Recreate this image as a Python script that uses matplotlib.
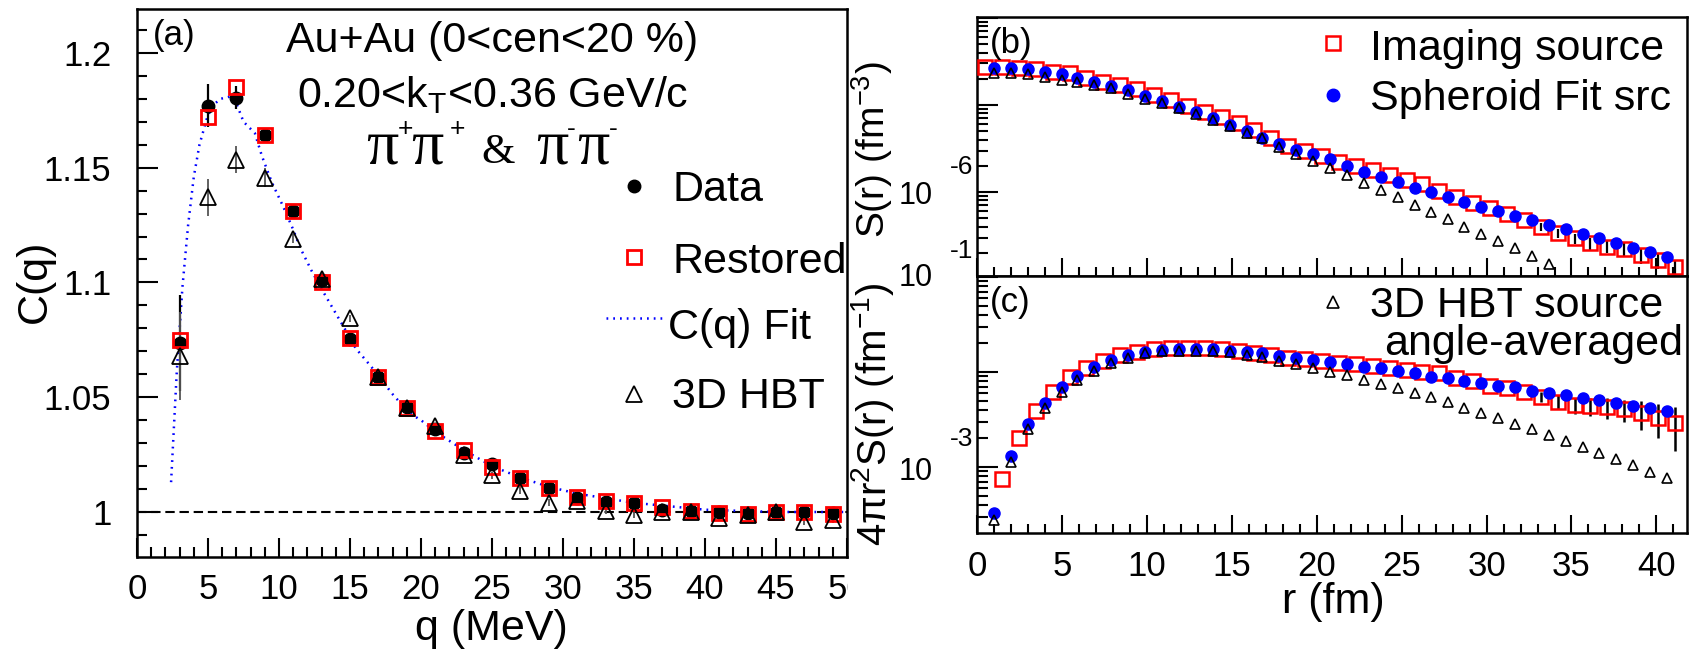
import numpy as np
import matplotlib
matplotlib.use('Agg')
import matplotlib.pyplot as plt
from matplotlib.lines import Line2D
from matplotlib.ticker import MultipleLocator, LogLocator, NullFormatter, FuncFormatter
from matplotlib.transforms import Bbox, TransformedBbox

plt.rcParams['font.family'] = ['Liberation Sans', 'DejaVu Sans']
plt.rcParams['mathtext.fontset'] = 'custom'
plt.rcParams['mathtext.rm'] = 'Liberation Sans'
plt.rcParams['mathtext.it'] = 'Liberation Sans:italic'
plt.rcParams['mathtext.bf'] = 'Liberation Sans:bold'

# ---------------- panel (a) data ----------------
q_mev = [3, 5, 7, 9, 11, 13, 15, 17, 19, 21, 23, 25, 27, 29, 31, 33, 35, 37, 39, 41, 43, 45, 47, 49]
C_data = [1.0735, 1.177, 1.1804, 1.164, 1.131, 1.101, 1.0755, 1.0587, 1.0457, 1.036, 1.0256, 1.0208,
          1.0147, 1.0104, 1.006, 1.0043, 1.004, 1.001, 1.0004, 1.000, 0.9997, 1.000, 1.000, 0.9997]
C_data_err = [0.021, 0.0095, 0.005, 0.003, 0.002, 0.002, 0.0015, 0.0015, 0.0015, 0.0015, 0.0015, 0.0015,
              0.0015, 0.0015, 0.0015, 0.0015, 0.0015, 0.0015, 0.0015, 0.0015, 0.0015, 0.0015, 0.0015, 0.0015]
C_restored = [1.075, 1.172, 1.185, 1.164, 1.131, 1.100, 1.076, 1.0587, 1.0452, 1.0352, 1.027, 1.0196,
              1.0148, 1.0104, 1.0065, 1.0048, 1.004, 1.002, 1.0004, 0.9996, 0.999, 1.000, 1.000, 0.9993]
C_hbt = [1.068, 1.137, 1.1535, 1.1457, 1.119, 1.1017, 1.0843, 1.059, 1.0452, 1.0374, 1.0248, 1.016,
         1.0093, 1.004, 1.005, 1.0006, 0.9987, 1.000, 1.000, 0.9974, 0.9987, 1.000, 0.9958, 0.9965]
C_hbt_err = [0.019, 0.008, 0.006, 0.004, 0.002, 0.002, 0.0015, 0.0015, 0.0015, 0.0015, 0.0015, 0.0015,
             0.0015, 0.0015, 0.0015, 0.0015, 0.0015, 0.0015, 0.0015, 0.0015, 0.0015, 0.0015, 0.0015, 0.0015]
fit_q = [2.4, 2.8, 3.2, 3.6, 4.0, 4.4, 4.9, 5.3, 5.9, 6.6, 7.0, 7.5, 8.3, 8.8, 9.5, 10.3, 11.0, 11.5,
         12.3, 13.2, 14.0, 14.8, 15.4, 16.4, 17.2, 17.9, 19.2, 20.0, 21, 23, 25, 27, 29, 31, 35, 40, 45, 50]
fit_C = [1.013, 1.061, 1.098, 1.125, 1.146, 1.160, 1.171, 1.177, 1.180, 1.181, 1.178, 1.170, 1.165,
         1.155, 1.1435, 1.133, 1.123, 1.115, 1.105, 1.095, 1.0865, 1.078, 1.0713, 1.064, 1.058, 1.052,
         1.043, 1.040, 1.035, 1.027, 1.020, 1.015, 1.011, 1.008, 1.004, 1.001, 1.000, 1.000]
C_baseline = 1.0
q_ticks = [0, 5, 10, 15, 20, 25, 30, 35, 40, 45, 50]
C_ticks = [1.0, 1.05, 1.1, 1.15, 1.2]

# ---------------- panels (b), (c) data ----------------
r_fit = [1.0, 2.0, 3.0, 4.0, 5.0, 5.9, 6.9, 7.9, 8.9, 9.9, 10.9, 11.9, 12.9, 13.9, 14.9, 15.9, 16.8,
         17.8, 18.8, 19.8, 20.8, 21.8, 22.8, 23.8, 24.8, 25.8, 26.7, 27.7, 28.7, 29.7, 30.7, 31.7, 32.7,
         33.7, 34.7, 35.7, 36.6, 37.6, 38.6, 39.6, 40.6]
r_img = [0.5, 1.5, 2.5, 3.5, 4.5, 5.5, 6.4, 7.4, 8.4, 9.4, 10.4, 11.4, 12.4, 13.4, 14.4, 15.4, 16.3,
         17.3, 18.3, 19.3, 20.3, 21.3, 22.3, 23.3, 24.3, 25.3, 26.2, 27.2, 28.2, 29.2, 30.2, 31.2, 32.2,
         33.2, 34.2, 35.2, 36.1, 37.1, 38.1, 39.1, 40.1, 41.1]

S_img = [2.75e-5, 2.75e-5, 2.69e-5, 2.57e-5, 2.42e-5, 2.31e-5, 2.06e-5, 1.85e-5, 1.70e-5, 1.51e-5,
         1.30e-5, 1.14e-5, 9.75e-6, 8.38e-6, 7.23e-6, 6.17e-6, 5.16e-6, 4.14e-6, 3.40e-6, 2.99e-6,
         2.59e-6, 2.23e-6, 2.00e-6, 1.79e-6, 1.57e-6, 1.37e-6, 1.23e-6, 1.03e-6, 8.83e-7, 7.41e-7,
         6.50e-7, 5.55e-7, 4.76e-7, 3.99e-7, 3.35e-7, 2.94e-7, 2.57e-7, 2.35e-7, 2.19e-7, 1.89e-7,
         1.65e-7, 1.38e-7]
S_img_err = [0.0] * 33 + [4.2e-8, 3.6e-8, 3.9e-8, 4.1e-8, 3.7e-8, 4.1e-8, 4.0e-8, 3.5e-8, 2.9e-8]
S_fit = [2.69e-5, 2.64e-5, 2.57e-5, 2.42e-5, 2.27e-5, 2.06e-5, 1.84e-5, 1.65e-5, 1.49e-5, 1.28e-5,
         1.11e-5, 9.55e-6, 8.24e-6, 7.03e-6, 5.89e-6, 5.02e-6, 4.21e-6, 3.53e-6, 3.04e-6, 2.71e-6,
         2.38e-6, 1.99e-6, 1.71e-6, 1.50e-6, 1.29e-6, 1.12e-6, 1.01e-6, 8.69e-7, 7.74e-7, 6.78e-7,
         6.05e-7, 5.30e-7, 4.76e-7, 4.18e-7, 3.72e-7, 3.27e-7, 2.94e-7, 2.57e-7, 2.29e-7, 2.03e-7,
         1.77e-7]
S_hbt = [2.35e-5, 2.31e-5, 2.27e-5, 2.08e-5, 1.94e-5, 1.85e-5, 1.70e-5, 1.56e-5, 1.34e-5, 1.17e-5,
         1.05e-5, 9.16e-6, 7.89e-6, 6.73e-6, 5.74e-6, 4.81e-6, 4.14e-6, 3.32e-6, 2.71e-6, 2.27e-6,
         1.87e-6, 1.57e-6, 1.28e-6, 1.05e-6, 8.69e-7, 7.10e-7, 5.94e-7, 4.85e-7, 3.99e-7, 3.29e-7,
         2.74e-7, 2.25e-7, 1.84e-7, 1.48e-7]

P_img = [7.43e-4, 2.03e-3, 3.92e-3, 6.21e-3, 8.79e-3, 1.09e-2, 1.32e-2, 1.51e-2, 1.61e-2, 1.73e-2,
         1.77e-2, 1.77e-2, 1.77e-2, 1.73e-2, 1.67e-2, 1.60e-2, 1.51e-2, 1.42e-2, 1.36e-2, 1.32e-2,
         1.25e-2, 1.21e-2, 1.16e-2, 1.11e-2, 1.05e-2, 1.01e-2, 9.68e-3, 8.59e-3, 8.09e-3, 7.18e-3,
         6.73e-3, 6.21e-3, 5.50e-3, 4.86e-3, 4.50e-3, 4.39e-3, 4.25e-3, 4.04e-3, 3.67e-3, 3.30e-3,
         2.88e-3]
P_img_err = [0.0] * 32 + [6.7e-4, 8.2e-4, 8.7e-4, 9.6e-4, 1.03e-3, 1.08e-3, 1.24e-3, 1.28e-3, 1.39e-3]
P_fit = [3.30e-4, 1.31e-3, 2.84e-3, 4.75e-3, 7.00e-3, 9.08e-3, 1.14e-2, 1.34e-2, 1.51e-2, 1.64e-2,
         1.71e-2, 1.73e-2, 1.75e-2, 1.73e-2, 1.67e-2, 1.61e-2, 1.57e-2, 1.47e-2, 1.42e-2, 1.34e-2,
         1.26e-2, 1.21e-2, 1.14e-2, 1.09e-2, 1.03e-2, 9.68e-3, 8.93e-3, 8.59e-3, 8.04e-3, 7.60e-3,
         7.18e-3, 6.90e-3, 6.35e-3, 6.05e-3, 5.73e-3, 5.36e-3, 5.07e-3, 4.75e-3, 4.42e-3, 4.15e-3,
         3.88e-3]
P_hbt = [2.77e-4, 1.14e-3, 2.49e-3, 4.15e-3, 6.21e-3, 8.24e-3, 1.03e-2, 1.24e-2, 1.39e-2, 1.57e-2,
         1.66e-2, 1.66e-2, 1.67e-2, 1.67e-2, 1.61e-2, 1.51e-2, 1.45e-2, 1.32e-2, 1.21e-2, 1.11e-2,
         1.01e-2, 9.29e-3, 8.24e-3, 7.43e-3, 6.73e-3, 6.05e-3, 5.42e-3, 4.86e-3, 4.15e-3, 3.67e-3,
         3.26e-3, 2.84e-3, 2.49e-3, 2.17e-3, 1.89e-3, 1.64e-3, 1.39e-3, 1.21e-3, 1.05e-3, 8.93e-4,
         7.60e-4]
r_ticks = [0, 5, 10, 15, 20, 25, 30, 35, 40]

# ---------------- figure ----------------
W, H = 1692, 649
fig = plt.figure(figsize=(W / 100, H / 100), dpi=100)


def fx(x):
    return x / W


def fy(y):
    return 1 - y / H


def axrect(x0, y0, x1, y1):
    return [x0 / W, 1 - y1 / H, (x1 - x0) / W, (y1 - y0) / H]


def style_spines(ax, lw=1.8):
    for s in ax.spines.values():
        s.set_linewidth(lw)
        s.set_color('black')


# ---------------- panel (a) ----------------
axA = fig.add_axes(axrect(137, 9, 847, 557))
style_spines(axA)
axA.set_xlim(0, 50)
axA.set_ylim(0.9804, 1.2191)
axA.axhline(C_baseline, color='black', lw=1.5, dashes=(4.5, 2.3), zorder=1)
axA.plot(fit_q, fit_C, color='blue', lw=1.8, linestyle=(0, (0.7, 2.0)), zorder=2)
axA.errorbar(q_mev, C_data, yerr=C_data_err, fmt='none', ecolor='black', elinewidth=1.6, capsize=0, zorder=3)
axA.errorbar(q_mev, C_hbt, yerr=C_hbt_err, fmt='none', ecolor='#555555', elinewidth=1.3, capsize=0, zorder=3)
axA.plot(q_mev, C_data, 'o', color='black', ms=9, zorder=4)
axA.plot(q_mev, C_restored, 's', mfc='none', mec='red', ms=10, mew=2.0, zorder=5)
axA.plot(q_mev, C_hbt, '^', mfc='none', mec='black', ms=11, mew=1.3, zorder=6)

axA.set_xticks(q_ticks)
axA.xaxis.set_minor_locator(MultipleLocator(1))
axA.set_yticks(C_ticks)
axA.yaxis.set_minor_locator(MultipleLocator(0.01))
axA.yaxis.set_major_formatter(FuncFormatter(lambda v, p: '%g' % v))
axA.tick_params(which='both', direction='in', top=False, right=False, width=1.5, color='black')
axA.tick_params(axis='x', which='major', length=13.5, labelsize=25, pad=11.5)
axA.tick_params(axis='x', which='minor', length=7)
axA.tick_params(axis='y', which='major', length=15, labelsize=25, pad=18.5)
axA.tick_params(axis='y', which='minor', length=7.5)
clipbox = TransformedBbox(Bbox.from_extents(0, 0, 848 / W, 1), fig.transFigure)
for lab in axA.get_xticklabels():
    lab.set_clip_box(clipbox)
    lab.set_clip_on(True)

fig.text(fx(35), fy(281), 'C(q)', rotation=90, ha='center', va='center', fontsize=31)
fig.text(fx(491), fy(640), 'q (MeV)', ha='center', va='baseline', fontsize=31)
fig.text(fx(153), fy(35), '(a)', ha='left', va='center', fontsize=25)
fig.text(fx(492), fy(52), 'Au+Au (0<cen<20 %)', ha='center', va='baseline', fontsize=31)
fig.text(fx(493), fy(107), r'0.20<k$_{\mathrm{T}}$<0.36 GeV/c', ha='center', va='baseline', fontsize=31)

serif = ['Liberation Serif', 'DejaVu Serif']
for xl in (366, 411, 536, 577):
    fig.text(fx(xl), fy(163), 'π', family=serif, fontsize=46, ha='left', va='baseline')
for xc, sgn in ((405, '+'), (457, '+'), (571, '-'), (613, '-')):
    fig.text(fx(xc), fy(126), sgn, fontsize=19, ha='center', va='center_baseline')
fig.text(fx(481), fy(163), '&', family=serif, fontsize=31, ha='left', va='baseline')

# legend (a)
fig.add_artist(Line2D([fx(634)], [fy(186)], marker='o', color='black', ms=9, transform=fig.transFigure))
fig.add_artist(Line2D([fx(634)], [fy(257)], marker='s', mfc='none', mec='red', ms=10, mew=2.0,
                      transform=fig.transFigure))
fig.add_artist(Line2D([fx(606), fx(663)], [fy(318), fy(318)], color='blue', lw=1.8,
                      linestyle=(0, (0.7, 2.0)), transform=fig.transFigure))
fig.add_artist(Line2D([fx(634)], [fy(394)], marker='^', mfc='none', mec='black', ms=11, mew=1.3,
                      transform=fig.transFigure))
fig.text(fx(672), fy(201), 'Data', ha='left', va='baseline', fontsize=31)
fig.text(fx(672), fy(273), 'Restored', ha='left', va='baseline', fontsize=31)
fig.text(fx(668), fy(339), 'C(q) Fit', ha='left', va='baseline', fontsize=31)
fig.text(fx(672), fy(408), '3D HBT', ha='left', va='baseline', fontsize=31)

# ---------------- panels (b), (c) ----------------
axB = fig.add_axes(axrect(977, 17, 1687, 276))
axC = fig.add_axes(axrect(977, 276, 1687, 533))
for ax in (axB, axC):
    style_spines(ax)
    ax.set_yscale('log')
    ax.set_xlim(0, 41.8)
    ax.set_xticks(r_ticks)
    ax.xaxis.set_minor_locator(MultipleLocator(1))
    ax.yaxis.set_major_locator(LogLocator(base=10))
    ax.yaxis.set_minor_locator(LogLocator(base=10, subs=np.arange(2, 10)))
    ax.yaxis.set_major_formatter(NullFormatter())
    ax.yaxis.set_minor_formatter(NullFormatter())
    ax.tick_params(which='both', direction='in', top=False, right=False, width=1.5, color='black')
    ax.tick_params(axis='x', which='major', length=13, labelsize=25, pad=12)
    ax.tick_params(axis='x', which='minor', length=6.5)
    ax.tick_params(axis='y', which='major', length=15)
    ax.tick_params(axis='y', which='minor', length=8)
axB.tick_params(axis='x', labelbottom=False)
axB.set_ylim(1.083e-7, 1.027e-4)
axC.set_ylim(2.018e-4, 0.1026)

# panel (b)
axB.errorbar(r_img, S_img, yerr=S_img_err, fmt='none', ecolor='black', elinewidth=1.6, capsize=0, zorder=2)
axB.plot(r_img, S_img, 's', mfc='none', mec='red', ms=10.5, mew=1.8, zorder=3)
axB.plot(r_fit, S_fit, 'o', color='blue', ms=8, zorder=4)
axB.plot(r_fit[:len(S_hbt)], S_hbt, '^', mfc='none', mec='black', ms=7.5, mew=1.2, zorder=5)

# panel (c)
axC.errorbar(r_img[1:], P_img, yerr=P_img_err, fmt='none', ecolor='black', elinewidth=1.8, capsize=0, zorder=2)
axC.plot(r_img[1:], P_img, 's', mfc='none', mec='red', ms=10.5, mew=1.8, zorder=3)
axC.plot(r_fit, P_fit, 'o', color='blue', ms=8, zorder=4)
axC.plot(r_fit, P_hbt, '^', mfc='none', mec='black', ms=7.5, mew=1.2, zorder=5)

# broken-looking ROOT log labels
for (xc, yc, s, fs) in ((916, 192, '10', 22), (916, 275, '10', 22), (916, 468, '10', 22),
                        (962, 165, '-6', 19), (962, 248, '-1', 19), (962, 437, '-3', 19)):
    fig.text(fx(xc), fy(yc), s, ha='center', va='center_baseline', fontsize=fs)

fig.text(fx(872), fy(150), r'S(r) (fm$^{-3}$)', rotation=90, ha='center', va='center', fontsize=28)
fig.text(fx(872), fy(414), r'4πr$^{2}$S(r) (fm$^{-1}$)', rotation=90, ha='center', va='center', fontsize=29)
fig.text(fx(1333.5), fy(613), 'r (fm)', ha='center', va='baseline', fontsize=31)
fig.text(fx(990), fy(44), '(b)', ha='left', va='center', fontsize=25)
fig.text(fx(990), fy(302), '(c)', ha='left', va='center', fontsize=25)

fig.add_artist(Line2D([fx(1333)], [fy(43)], marker='s', mfc='none', mec='red', ms=10.5, mew=1.8,
                      transform=fig.transFigure))
fig.add_artist(Line2D([fx(1333)], [fy(95)], marker='o', color='blue', ms=9, transform=fig.transFigure))
fig.add_artist(Line2D([fx(1333)], [fy(302)], marker='^', mfc='none', mec='black', ms=8, mew=1.2,
                      transform=fig.transFigure))
fig.text(fx(1370), fy(60), 'Imaging source', ha='left', va='baseline', fontsize=31)
fig.text(fx(1370), fy(110), 'Spheroid Fit src', ha='left', va='baseline', fontsize=31)
fig.text(fx(1370), fy(317), '3D HBT source', ha='left', va='baseline', fontsize=31)
fig.text(fx(1683), fy(355), 'angle-averaged', ha='right', va='baseline', fontsize=31)

fig.savefig('out.png', dpi=100)
